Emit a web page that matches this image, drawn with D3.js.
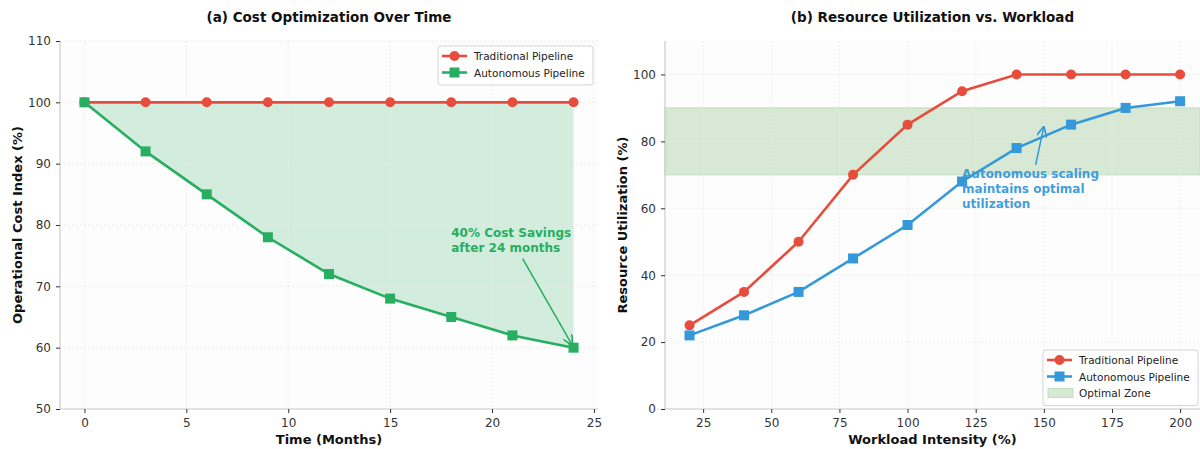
<!DOCTYPE html>
<html><head><meta charset="utf-8">
<script src="https://cdn.jsdelivr.net/npm/d3@7"></script>
<style>
body{margin:0;background:#fff;font-family:"DejaVu Sans",sans-serif;}
svg text{font-family:"DejaVu Sans",sans-serif;}
</style></head><body>
<svg id="c" width="1200" height="449"></svg>
<script>
// ---- data ----
const months = [0,3,6,9,12,15,18,21,24];
const costTraditional = [100,100,100,100,100,100,100,100,100];
const costAutonomous = [100,92,85,78,72,68,65,62,60];
const costXTicks = [0,5,10,15,20,25];
const costYTicks = [50,60,70,80,90,100,110];

const workload = [20,40,60,80,100,120,140,160,180,200];
const utilTraditional = [25,35,50,70,85,95,100,100,100,100];
const utilAutonomous = [22,28,35,45,55,68,78,85,90,92];
const optimalZone = [70,90];
const utilXTicks = [25,50,75,100,125,150,175,200];
const utilYTicks = [0,20,40,60,80,100];

const RED="#e74c3c", GREEN="#27ae60", BLUE="#3498db", ZONE="#d7e9d5", ZONE_EDGE="#c2dfbf";
const svg = d3.select("#c");

svg.append("defs").html(`
<marker id="arrG" viewBox="0 0 10 10" refX="10" refY="5" markerWidth="7" markerHeight="7" orient="auto-start-reverse"><path d="M0,0 L10,5 L0,10" fill="none" stroke="${GREEN}" stroke-width="1.6"/></marker>
<marker id="arrB" viewBox="0 0 10 10" refX="10" refY="5" markerWidth="7" markerHeight="7" orient="auto-start-reverse"><path d="M0,0 L10,5 L0,10" fill="none" stroke="${BLUE}" stroke-width="1.6"/></marker>`);

function panel(cfg){
  const g = svg.append("g");
  const x = d3.scaleLinear().domain(cfg.xd).range([cfg.x0,cfg.x1]);
  const y = d3.scaleLinear().domain(cfg.yd).range([cfg.y1,cfg.y0]);
  g.append("rect").attr("x",cfg.x0).attr("y",cfg.y0).attr("width",cfg.x1-cfg.x0).attr("height",cfg.y1-cfg.y0).attr("fill","#fdfdfd");
  const under = g.append("g");
  // grid
  const grid = g.append("g").attr("stroke","#e8e8e8").attr("stroke-width",0.8).attr("stroke-dasharray","2,2");
  cfg.xt.forEach(t=>grid.append("line").attr("x1",x(t)).attr("x2",x(t)).attr("y1",cfg.y0).attr("y2",cfg.y1));
  cfg.yt.forEach(t=>grid.append("line").attr("y1",y(t)).attr("y2",y(t)).attr("x1",cfg.x0).attr("x2",cfg.x1));
  // axes
  const xa = g.append("g").attr("transform",`translate(0,${cfg.y1})`).call(d3.axisBottom(x).tickValues(cfg.xt).tickSize(4).tickPadding(5));
  const ya = g.append("g").attr("transform",`translate(${cfg.x0},0)`).call(d3.axisLeft(y).tickValues(cfg.yt).tickSize(4).tickPadding(5));
  [xa,ya].forEach(a=>{
    a.select(".domain").attr("stroke","#cccccc").attr("stroke-width",1.2);
    a.selectAll(".tick line").attr("stroke","#333");
    a.selectAll(".tick text").attr("fill","#333").style("font-size","12px");
  });
  xa.select(".domain").attr("d",`M${cfg.x0},0H${cfg.x1}`);
  ya.select(".domain").attr("d",`M0,${cfg.y1}V${cfg.y0}`);
  // titles
  svg.append("text").attr("x",(cfg.x0+cfg.x1)/2).attr("y",22).attr("text-anchor","middle").style("font-size","13.5px").style("font-weight","bold").attr("fill","#111").text(cfg.title);
  svg.append("text").attr("x",(cfg.x0+cfg.x1)/2).attr("y",cfg.y1+35).attr("text-anchor","middle").style("font-size","13px").style("font-weight","bold").attr("fill","#111").text(cfg.xlabel);
  svg.append("text").attr("transform",`translate(${cfg.ylx},${(cfg.y0+cfg.y1)/2}) rotate(-90)`).attr("text-anchor","middle").style("font-size","13px").style("font-weight","bold").attr("fill","#111").text(cfg.ylabel);
  return {g,under,x,y};
}

function series(p, xs, ys, color, shape){
  const line = d3.line().x((d,i)=>p.x(xs[i])).y(d=>p.y(d));
  p.g.append("path").datum(ys).attr("d",line).attr("fill","none").attr("stroke",color).attr("stroke-width",2.6);
  ys.forEach((v,i)=>{
    if(shape==="circle") p.g.append("circle").attr("cx",p.x(xs[i])).attr("cy",p.y(v)).attr("r",5).attr("fill",color);
    else p.g.append("rect").attr("x",p.x(xs[i])-5).attr("y",p.y(v)-5).attr("width",10).attr("height",10).attr("fill",color);
  });
}

function legend(x0,y0,w,items){
  const h = items.length*16.5+6;
  const lg = svg.append("g");
  lg.append("rect").attr("x",x0).attr("y",y0).attr("width",w).attr("height",h).attr("rx",3).attr("fill","#fff").attr("fill-opacity",0.85).attr("stroke","#d5d5d5");
  items.forEach((it,i)=>{
    const cy = y0+10+i*16.5;
    if(it.type==="patch"){
      lg.append("rect").attr("x",x0+5).attr("y",cy-4.5).attr("width",25).attr("height",9).attr("fill",ZONE).attr("stroke",ZONE_EDGE);
    } else {
      lg.append("line").attr("x1",x0+4).attr("x2",x0+29).attr("y1",cy).attr("y2",cy).attr("stroke",it.color).attr("stroke-width",2.6);
      if(it.type==="circle") lg.append("circle").attr("cx",x0+16.5).attr("cy",cy).attr("r",5).attr("fill",it.color);
      else lg.append("rect").attr("x",x0+11.5).attr("y",cy-5).attr("width",10).attr("height",10).attr("fill",it.color);
    }
    lg.append("text").attr("x",x0+36).attr("y",cy+4).style("font-size","10.5px").attr("fill","#222").text(it.label);
  });
}

// ---- panel (a) ----
const p1 = panel({x0:60,x1:598,y0:41,y1:409,xd:[-1.2,25.2],yd:[50,110],xt:costXTicks,yt:costYTicks,
  title:"(a) Cost Optimization Over Time",xlabel:"Time (Months)",ylabel:"Operational Cost Index (%)",ylx:22});
const area = d3.area().x((d,i)=>p1.x(months[i])).y0((d,i)=>p1.y(costTraditional[i])).y1(d=>p1.y(d));
p1.under.append("path").datum(costAutonomous).attr("d",area).attr("fill",GREEN).attr("fill-opacity",0.2);
series(p1, months, costTraditional, RED, "circle");
series(p1, months, costAutonomous, GREEN, "square");
p1.g.append("text").style("font-size","12px").style("font-weight","bold").attr("fill",GREEN)
  .selectAll("tspan").data(["40% Cost Savings","after 24 months"]).join("tspan").attr("x",p1.x(18)).attr("y",(d,i)=>p1.y(78)+i*15).text(d=>d);
p1.g.append("line").attr("x1",p1.x(21.5)).attr("y1",p1.y(74.5)).attr("x2",p1.x(24)-1).attr("y2",p1.y(60)-2)
  .attr("stroke",GREEN).attr("stroke-width",1.5).attr("marker-end","url(#arrG)");
legend(438,46,155,[{type:"circle",color:RED,label:"Traditional Pipeline"},{type:"square",color:GREEN,label:"Autonomous Pipeline"}]);

// ---- panel (b) ----
const p2 = panel({x0:665,x1:1200,y0:41,y1:409,xd:[11,207.3],yd:[0,110],xt:utilXTicks,yt:utilYTicks,
  title:"(b) Resource Utilization vs. Workload",xlabel:"Workload Intensity (%)",ylabel:"Resource Utilization (%)",ylx:627});
p2.under.append("rect").attr("x",665).attr("width",535).attr("y",p2.y(optimalZone[1])).attr("height",p2.y(optimalZone[0])-p2.y(optimalZone[1]))
  .attr("fill",ZONE).attr("stroke",ZONE_EDGE);
series(p2, workload, utilTraditional, RED, "circle");
series(p2, workload, utilAutonomous, BLUE, "square");
p2.g.append("line").attr("x1",p2.x(147)).attr("y1",p2.y(73)).attr("x2",p2.x(150)).attr("y2",p2.y(84.5))
  .attr("stroke",BLUE).attr("stroke-width",1.5).attr("marker-end","url(#arrB)");
p2.g.append("text").style("font-size","12px").style("font-weight","bold").attr("fill",BLUE).attr("fill-opacity",0.95)
  .selectAll("tspan").data(["Autonomous scaling","maintains optimal","utilization"]).join("tspan").attr("x",p2.x(120)).attr("y",(d,i)=>p2.y(69)+i*15).text(d=>d);
legend(1043,350,155,[{type:"circle",color:RED,label:"Traditional Pipeline"},{type:"square",color:BLUE,label:"Autonomous Pipeline"},{type:"patch",color:GREEN,label:"Optimal Zone"}]);
</script></body></html>
